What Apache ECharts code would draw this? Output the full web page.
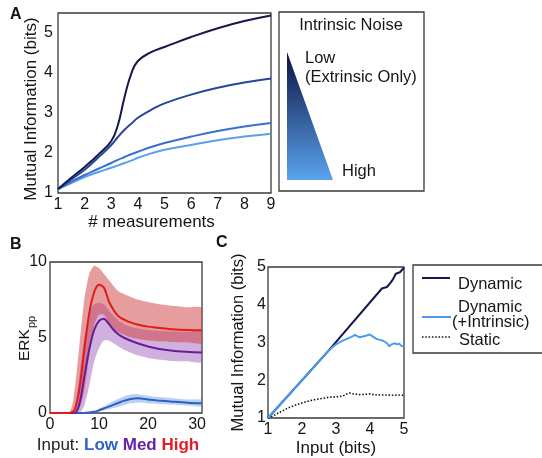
<!DOCTYPE html>
<html>
<head>
<meta charset="utf-8">
<script src="https://cdn.jsdelivr.net/npm/echarts@6/dist/echarts.min.js"></script>
<style>
  html, body { margin: 0; padding: 0; background: #fff; }
  #main { width: 542px; height: 458px; }
</style>
</head>
<body>
<div id="main"></div>
<script>
// A: mutual information vs number of measurements (4 noise levels)
const measX = [1, 1.5, 2, 2.5, 3, 3.25, 3.5, 3.75, 4, 4.5, 5, 6, 7, 8, 9]
const miNoise1 = [1.1, 1.38, 1.65, 1.95, 2.3, 2.7, 3.4, 3.98, 4.3, 4.52, 4.65, 4.9, 5.12, 5.3, 5.44]
const miNoise2 = [1.1, 1.34, 1.58, 1.88, 2.2, 2.4, 2.58, 2.73, 2.88, 3.08, 3.24, 3.46, 3.63, 3.76, 3.86]
const miNoise3 = [1.1, 1.28, 1.45, 1.6, 1.75, 1.83, 1.9, 1.97, 2.03, 2.15, 2.25, 2.41, 2.55, 2.66, 2.75]
const miNoise4 = [1.1, 1.25, 1.4, 1.52, 1.63, 1.69, 1.75, 1.81, 1.88, 1.99, 2.08, 2.2, 2.32, 2.41, 2.48]
const noiseColors = ['#14184a', '#24479c', '#3a6fd0', '#5aa0ee']

// B: ERKpp time courses, mean with lower / upper band
const timeX = [0, 4, 5, 6, 7, 8, 9, 10, 11, 12, 13, 14, 15, 16, 18, 20, 22, 25, 28, 31]
const highMean = [0, 0, 0.2, 1.6, 4.2, 6.6, 8.0, 8.5, 8.3, 7.4, 6.8, 6.4, 6.2, 6.05, 5.85, 5.72, 5.65, 5.55, 5.5, 5.48]
const highLow = [0, 0, 0, 0.3, 1.5, 3.8, 5.8, 6.5, 6.5, 6.0, 5.6, 5.35, 5.2, 5.05, 4.9, 4.8, 4.75, 4.7, 4.68, 4.66]
const highHigh = [0, 0.1, 1.5, 4.5, 7.5, 9.2, 9.75, 9.6, 9.2, 8.8, 8.4, 8.05, 7.9, 7.75, 7.5, 7.35, 7.22, 7.1, 7.0, 6.95]
const medMean = [0, 0, 0, 0.6, 2.4, 4.2, 5.5, 6.1, 6.25, 5.9, 5.5, 5.2, 5.0, 4.85, 4.6, 4.4, 4.25, 4.12, 4.05, 4.0]
const medLow = [0, 0, 0, 0, 0.5, 1.8, 3.4, 4.3, 4.8, 4.8, 4.6, 4.4, 4.2, 4.05, 3.8, 3.65, 3.55, 3.45, 3.42, 3.4]
const medHigh = [0, 0, 0.3, 2.5, 5.0, 6.6, 7.2, 7.3, 7.2, 6.8, 6.4, 6.1, 5.9, 5.75, 5.6, 5.5, 5.45, 5.4, 5.38, 5.38]
const lowMean = [0, 0, 0, 0, 0, 0.03, 0.08, 0.18, 0.3, 0.42, 0.55, 0.68, 0.8, 0.9, 0.97, 0.9, 0.83, 0.75, 0.68, 0.64]
const lowLow = [0, 0, 0, 0, 0, 0.01, 0.05, 0.1, 0.18, 0.25, 0.33, 0.42, 0.52, 0.62, 0.7, 0.65, 0.6, 0.55, 0.5, 0.45]
const lowHigh = [0, 0, 0, 0, 0, 0.05, 0.12, 0.28, 0.45, 0.62, 0.8, 0.95, 1.1, 1.2, 1.25, 1.15, 1.07, 0.98, 0.9, 0.88]

// C: mutual information vs input
const dynX = [1, 2.77, 4.35, 4.42, 4.5, 4.6, 4.68, 4.76, 4.82, 4.88, 4.94, 5]
const dynY = [1, 2.77, 4.43, 4.45, 4.47, 4.58, 4.68, 4.82, 4.84, 4.86, 4.92, 4.98]
const intrX = [1, 2.77, 2.9, 3.0, 3.1, 3.2, 3.3, 3.4, 3.5, 3.56, 3.62, 3.7, 3.76, 3.85, 3.92, 4.0, 4.05, 4.1, 4.2, 4.3, 4.4, 4.5, 4.57, 4.63, 4.68, 4.74, 4.8, 4.86, 4.92, 5]
const intrY = [1, 2.77, 2.88, 2.95, 3.0, 3.05, 3.09, 3.13, 3.17, 3.2, 3.17, 3.14, 3.15, 3.17, 3.19, 3.21, 3.19, 3.15, 3.09, 3.07, 3.04, 2.98, 2.9, 2.95, 2.99, 2.98, 2.95, 2.97, 2.91, 2.89]
const staticX = [1, 1.2, 1.4, 1.6, 1.8, 2.0, 2.2, 2.4, 2.6, 2.8, 3.0, 3.2, 3.3, 3.4, 3.5, 3.7, 3.9, 4.0, 4.1, 4.3, 4.5, 4.7, 4.85, 5]
const staticY = [1, 1.08, 1.18, 1.27, 1.34, 1.4, 1.45, 1.49, 1.52, 1.55, 1.56, 1.58, 1.63, 1.66, 1.64, 1.62, 1.63, 1.64, 1.62, 1.61, 1.61, 1.6, 1.61, 1.6]

const FONT = "'Liberation Sans', Arial, sans-serif"
const TXT = '#151515'

function pairs (xs, ys) {
  return xs.map((x, i) => [x, ys[i]])
}

function valueAxis (gridIndex, min, max, interval, labelMargin) {
  return {
    type: 'value',
    gridIndex: gridIndex,
    min: min,
    max: max,
    interval: interval,
    axisLine: {show: false},
    axisTick: {show: false},
    splitLine: {show: false},
    axisLabel: {
      fontSize: 16,
      fontFamily: FONT,
      color: TXT,
      margin: labelMargin,
      showMaxLabel: max % interval === 0
    },
    nameTextStyle: {fontSize: 17, fontFamily: FONT, color: TXT}
  }
}

function lineSeries (xi, data, color, width, extra) {
  return Object.assign({
    type: 'line',
    xAxisIndex: xi,
    yAxisIndex: xi,
    data: data,
    symbol: 'none',
    lineStyle: {color: color, width: width},
    silent: true,
    animation: false
  }, extra || {})
}

// shaded band between lows and highs, drawn as one polygon in panel B
function bandSeries (lows, highs, color) {
  return {
    type: 'custom',
    xAxisIndex: 1,
    yAxisIndex: 1,
    silent: true,
    clip: true,
    data: timeX.map((x, i) => [x, lows[i], highs[i]]),
    encode: {x: 0, y: [1, 2]},
    renderItem: function (params, api) {
      if (params.dataIndex !== 0) return
      const top = timeX.map((x, i) => api.coord([x, highs[i]]))
      const bottom = timeX.map((x, i) => api.coord([x, lows[i]])).reverse()
      bottom.pop()
      return {
        type: 'polygon',
        shape: {points: top.concat(bottom), smooth: 0.25},
        style: {fill: color}
      }
    }
  }
}

const xA = valueAxis(0, 1, 9, 1, 4)
xA.name = '# measurements'
xA.nameLocation = 'middle'
xA.nameGap = 21
xA.nameTextStyle.padding = [0, 26, 0, 0]

const yA = valueAxis(0, 1, 5.5, 1, 5)
yA.name = 'Mutual Information (bits)'
yA.nameLocation = 'middle'
yA.nameGap = 18
yA.nameTextStyle.padding = [0, 12, 0, 0]

const xB = valueAxis(1, 0, 31, 10, 4)
xB.name = '{i|Input:} {l|Low} {m|Med} {h|High}'
xB.nameLocation = 'middle'
xB.nameGap = 24
xB.nameTextStyle.padding = [0, 16, 0, 0]
xB.nameTextStyle.rich = {
  i: {fontSize: 17, fontFamily: FONT, color: '#222'},
  l: {fontSize: 17, fontFamily: FONT, fontWeight: 'bold', color: '#2f62c6'},
  m: {fontSize: 17, fontFamily: FONT, fontWeight: 'bold', color: '#6522a4'},
  h: {fontSize: 17, fontFamily: FONT, fontWeight: 'bold', color: '#e21d25'}
}
const yB = valueAxis(1, 0, 10, 5, 3)

const xC = valueAxis(2, 1, 5, 1, 4)
xC.name = 'Input (bits)'
xC.nameLocation = 'middle'
xC.nameGap = 22
const yC = valueAxis(2, 1, 5, 1, 2)
yC.name = 'Mutual Information (bits)'
yC.nameLocation = 'middle'
yC.nameGap = 21
yC.nameTextStyle.fontSize = 16.5

const gridBox = {show: true, borderColor: '#3a3a3a', borderWidth: 1.3, backgroundColor: 'transparent'}

function txt (text, x, y, size, extra) {
  return {
    type: 'text',
    style: Object.assign({text: text, x: x, y: y, fontSize: size, fontFamily: FONT, fill: TXT, align: 'left', verticalAlign: 'middle'}, extra || {})
  }
}

const graphics = [
  txt('A', 10, 15, 16, {fontWeight: 'bold'}),
  txt('B', 10, 245, 16, {fontWeight: 'bold'}),
  txt('C', 216, 243, 16, {fontWeight: 'bold'}),
  // legend of panel A
  {type: 'rect', shape: {x: 279, y: 12, width: 145, height: 179}, style: {fill: '#fff', stroke: '#3a3a3a', lineWidth: 1.3}},
  txt('Intrinsic Noise', 351, 25, 16.5, {align: 'center'}),
  {
    type: 'polygon',
    shape: {points: [[287, 52], [287, 180], [333, 180]]},
    style: {
      fill: new echarts.graphic.LinearGradient(0, 0, 0, 1, [
        {offset: 0, color: '#0b1240'},
        {offset: 1, color: '#5aa3ee'}
      ])
    }
  },
  txt('Low', 305, 58, 16.5),
  txt('(Extrinsic Only)', 305, 77, 16.5),
  txt('High', 342, 171, 16.5),
  // ERKpp label of panel B
  {
    type: 'group',
    x: 33,
    y: 361,
    rotation: Math.PI / 2,
    children: [
      {type: 'text', style: {text: 'ERK', x: 0, y: 0, fontSize: 15.5, fontFamily: FONT, fill: TXT, verticalAlign: 'bottom'}},
      {type: 'text', style: {text: 'pp', x: 33, y: 4, fontSize: 11, fontFamily: FONT, fill: TXT, verticalAlign: 'bottom'}}
    ]
  },
  // legend of panel C
  {type: 'rect', shape: {x: 413, y: 265, width: 140, height: 88}, style: {fill: '#fff', stroke: '#3a3a3a', lineWidth: 1.3}},
  {type: 'line', shape: {x1: 422, y1: 278, x2: 450, y2: 278}, style: {stroke: '#14184a', lineWidth: 2}},
  txt('Dynamic', 458, 284, 16.5),
  {type: 'line', shape: {x1: 422, y1: 317, x2: 451, y2: 317}, style: {stroke: '#4a9af0', lineWidth: 2}},
  txt('Dynamic', 458, 307, 16.5),
  txt('(+Intrinsic)', 452, 322, 16.5),
  {type: 'line', shape: {x1: 422, y1: 337, x2: 450, y2: 337}, style: {stroke: '#111', lineWidth: 1.6, lineDash: [1.5, 1.8]}},
  txt('Static', 459, 340, 16.5)
]

const option = {
  animation: false,
  backgroundColor: '#fff',
  grid: [
    Object.assign({left: 58, top: 13, width: 213, height: 180}, gridBox),
    Object.assign({left: 50, top: 262, width: 152, height: 151}, gridBox),
    Object.assign({left: 268, top: 267, width: 136, height: 151}, gridBox)
  ],
  xAxis: [xA, xB, xC],
  yAxis: [yA, yB, yC],
  graphic: graphics,
  series: [
    lineSeries(0, pairs(measX, miNoise4), noiseColors[3], 2, {smooth: 0.45}),
    lineSeries(0, pairs(measX, miNoise3), noiseColors[2], 2, {smooth: 0.45}),
    lineSeries(0, pairs(measX, miNoise2), noiseColors[1], 2, {smooth: 0.45}),
    lineSeries(0, pairs(measX, miNoise1), noiseColors[0], 2, {smooth: 0.45}),

    bandSeries(lowLow, lowHigh, 'rgba(80, 140, 220, 0.4)'),
    bandSeries(medLow, medHigh, 'rgba(150, 80, 180, 0.45)'),
    bandSeries(highLow, highHigh, 'rgba(205, 60, 60, 0.5)'),
    lineSeries(1, pairs(timeX, lowMean), '#2f5ec4', 2, {smooth: 0.3}),
    lineSeries(1, pairs(timeX, medMean), '#6a1b9a', 2, {smooth: 0.3}),
    lineSeries(1, pairs(timeX, highMean), '#e31a1c', 2, {smooth: 0.3}),

    lineSeries(2, pairs(staticX, staticY), '#111', 1.6, {lineStyle: {color: '#111', width: 1.6, type: [1.5, 1.8]}}),
    lineSeries(2, pairs(dynX, dynY), '#14184a', 2),
    lineSeries(2, pairs(intrX, intrY), '#4a9af0', 2)
  ]
}

const myChart = echarts.init(document.getElementById('main'), null, {renderer: 'canvas'})
myChart.setOption(option)
</script>
</body>
</html>
